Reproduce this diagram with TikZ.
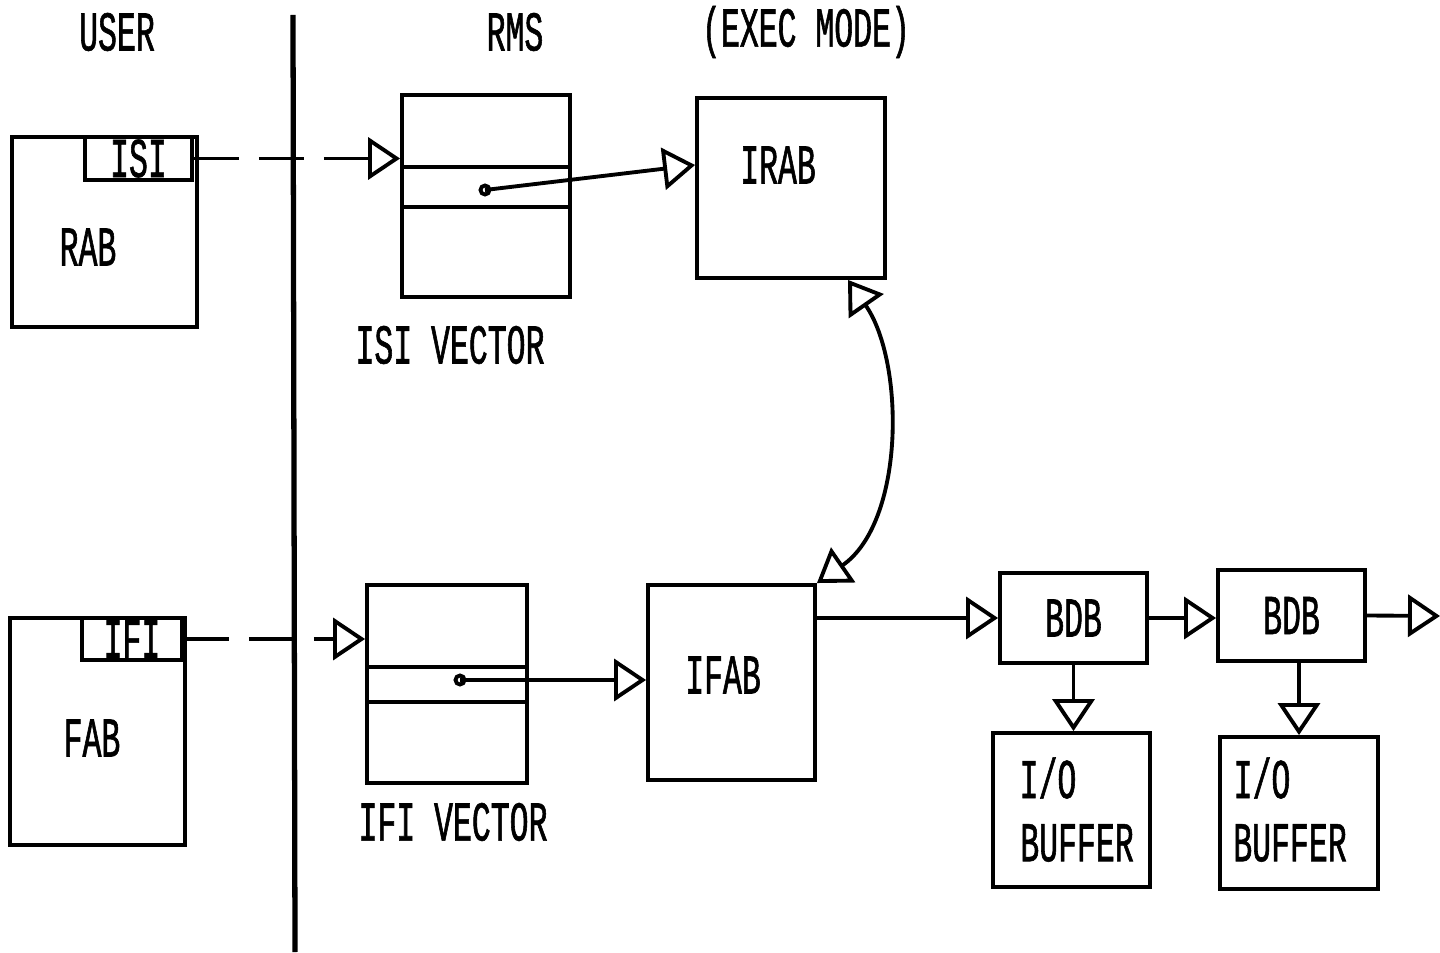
\documentclass[tikz,border=0pt]{standalone}
\usepackage{fontspec}
\newfontfamily\lettering{Liberation Mono}[FakeStretch=0.56,FakeBold=1]
\usetikzlibrary{arrows.meta}

\begin{document}
\begin{tikzpicture}[
  >={Triangle[open,length=3.2mm,width=4.2mm]},
  line width=1.1pt,
  every node/.style={font=\lettering\fontsize{16}{18}\selectfont},
  box/.style={draw=black,rectangle,inner sep=0pt,line width=1.1pt},
  lbl/.style={inner sep=0pt},
  link/.style={->,line width=1.1pt},
  userlink/.style={->,line width=1.1pt,dash pattern=on 4.5mm off 2mm}
]
  \useasboundingbox (0,0) rectangle (14.4,9.52);

  \node[lbl] (user) at (1.17,9.20) {USER};
  \node[lbl] (rms) at (5.15,9.20) {RMS};
  \node[lbl] (exec) at (8.06,9.20) {(EXEC MODE)};
  \draw[line width=1.5pt] (2.93,9.37) -- (2.95,0);

  \node[box,minimum width=1.85cm,minimum height=1.90cm] (rab) at (1.045,7.20) {};
  \node[lbl] (rabtxt) at (0.88,7.05) {RAB};
  \node[box,minimum width=1.07cm,minimum height=0.43cm] (isi) at (1.385,7.935) {ISI};

  \node[box,minimum width=1.75cm,minimum height=2.27cm] (fab) at (0.975,2.205) {};
  \node[lbl] (fabtxt) at (0.92,2.14) {FAB};
  \node[box,minimum width=1.0cm,minimum height=0.42cm] (ifi) at (1.32,3.13) {IFI};

  \node[box,minimum width=1.68cm,minimum height=2.02cm] (isivec) at (4.86,7.56) {};
  \draw (isivec.west |- 0,7.85) -- (isivec.east |- 0,7.85);
  \draw (isivec.west |- 0,7.45) -- (isivec.east |- 0,7.45);
  \node[lbl] (isivectxt) at (4.50,6.07) {ISI VECTOR};

  \node[box,minimum width=1.6cm,minimum height=1.98cm] (ifivec) at (4.47,2.68) {};
  \draw (ifivec.west |- 0,2.85) -- (ifivec.east |- 0,2.85);
  \draw (ifivec.west |- 0,2.50) -- (ifivec.east |- 0,2.50);
  \node[lbl] (ifivectxt) at (4.53,1.30) {IFI VECTOR};

  \node[box,minimum width=1.88cm,minimum height=1.80cm] (irab) at (7.91,7.64) {};
  \node[lbl] (irabtxt) at (7.78,7.87) {IRAB};
  \node[box,minimum width=1.67cm,minimum height=1.95cm] (ifab) at (7.315,2.695) {};
  \node[lbl] (ifabtxt) at (7.23,2.77) {IFAB};

  \node[box,minimum width=1.47cm,minimum height=0.90cm] (bdb1) at (10.735,3.34) {BDB};
  \node[box,minimum width=1.47cm,minimum height=0.91cm] (bdb2) at (12.915,3.365) {BDB};
  \coordinate (more) at (14.4,3.36);

  \node[box,minimum width=1.57cm,minimum height=1.54cm] (io1) at (10.715,1.42) {};
  \node[lbl] (io1a) at (10.48,1.74) {I/O};
  \node[lbl] (io1b) at (10.77,1.09) {BUFFER};
  \node[box,minimum width=1.58cm,minimum height=1.52cm] (io2) at (12.99,1.39) {};
  \node[lbl] (io2a) at (12.62,1.74) {I/O};
  \node[lbl] (io2b) at (12.90,1.09) {BUFFER};

  \draw[userlink] (isi.east) -- (isi.east -| isivec.west);
  \draw[userlink] (ifi.east) -- (ifi.east -| ifivec.west);

  \coordinate (isiptr) at (4.85,7.62);
  \coordinate (ifiptr) at (4.60,2.72);
  \draw (isiptr) circle (0.045);
  \draw (ifiptr) circle (0.045);
  \draw[link] (isiptr) -- ([yshift=2.3mm]irab.west);
  \draw[link] (ifiptr) -- (ifiptr -| ifab.west);

  \draw[<->] ([xshift=5.7mm]irab.south) .. controls (9.05,5.9) and (9.05,4.3) .. (ifab.north east);

  \draw[link] (bdb1.west -| ifab.east) -- (bdb1.west);
  \draw[link] (bdb1.east) -- (bdb1.east -| bdb2.west);
  \draw[link] (bdb2.east) -- (more);
  \draw[link] (bdb1.south) -- (bdb1.south |- io1.north);
  \draw[link] (io2.north |- bdb2.south) -- (io2.north);
\end{tikzpicture}
\end{document}
